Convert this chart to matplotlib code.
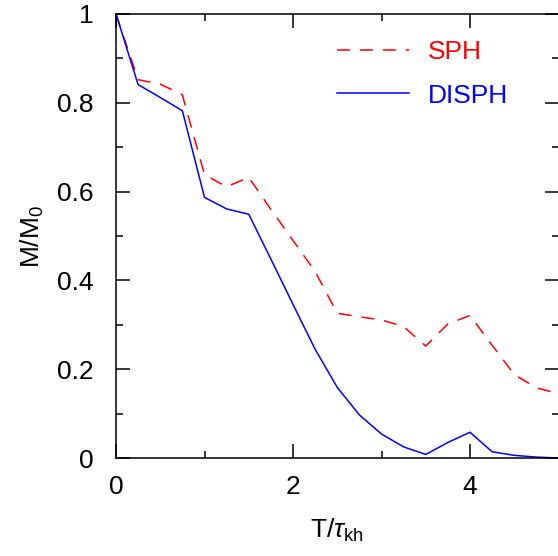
import matplotlib
matplotlib.use("Agg")
from matplotlib import pyplot as plt
from matplotlib.ticker import MultipleLocator, FuncFormatter

plt.rcParams['font.family'] = ['Liberation Sans', 'DejaVu Sans']
plt.rcParams['mathtext.fontset'] = 'custom'
plt.rcParams['mathtext.rm'] = 'Liberation Sans'
plt.rcParams['mathtext.it'] = 'Liberation Sans:italic'

# time in units of the KH timescale
t = [0.0, 0.25, 0.5, 0.75, 1.0, 1.25, 1.5, 1.75, 2.0, 2.25, 2.5,
     2.75, 3.0, 3.25, 3.5, 3.75, 4.0, 4.25, 4.5, 4.75, 5.0]
# mass fraction of the cloud
m_sph = [1.0, 0.852, 0.842, 0.818, 0.638, 0.611, 0.632, 0.56, 0.49, 0.42, 0.326,
         0.318, 0.311, 0.296, 0.252, 0.302, 0.321, 0.254, 0.188, 0.158, 0.145]
m_disph = [1.0, 0.841, 0.812, 0.782, 0.587, 0.561, 0.549, 0.448, 0.346, 0.245, 0.159,
           0.097, 0.054, 0.025, 0.008, 0.035, 0.058, 0.014, 0.006, 0.002, 0.0]

fs = 19

fig = plt.figure(figsize=(5.58, 5.56), dpi=100)
ax = fig.add_axes([116/558, 1 - 458/556, 442.5/558, 444/556])

ax.plot(t, m_sph, color='red', lw=1.1, dashes=(8.5, 6.5), label='SPH')
ax.plot(t, m_disph, color='blue', lw=1.1, label='DISPH')

ax.set_xlim(0, 5)
ax.set_ylim(0, 1)
ax.xaxis.set_major_locator(MultipleLocator(2))
ax.xaxis.set_minor_locator(MultipleLocator(1))
ax.yaxis.set_major_locator(MultipleLocator(0.2))
ax.yaxis.set_minor_locator(MultipleLocator(0.1))
ax.yaxis.set_major_formatter(FuncFormatter(lambda v, p: '%g' % round(v, 2)))
ax.tick_params(which='both', direction='in', top=True, right=True, width=1.1, labelsize=fs)
ax.tick_params(which='major', length=10)
ax.tick_params(which='minor', length=5)
ax.tick_params(axis='y', pad=16)
ax.tick_params(axis='x', pad=12)
for s in ax.spines.values():
    s.set_linewidth(1.1)

ax.set_xlabel(r'T/$\tau_{\mathrm{kh}}$', fontsize=fs, labelpad=13)
ax.set_ylabel(r'M/M$_{\mathrm{0}}$', fontsize=fs, labelpad=8)

leg = ax.legend(loc='upper left', bbox_to_anchor=(0.5, 0.942), frameon=False,
                borderpad=0, borderaxespad=0, handlelength=2.7, handletextpad=0.72,
                labelspacing=0.75, fontsize=fs)
for txt, ln in zip(leg.get_texts(), leg.get_lines()):
    txt.set_color(ln.get_color())

fig.savefig('out.png', dpi=100)
